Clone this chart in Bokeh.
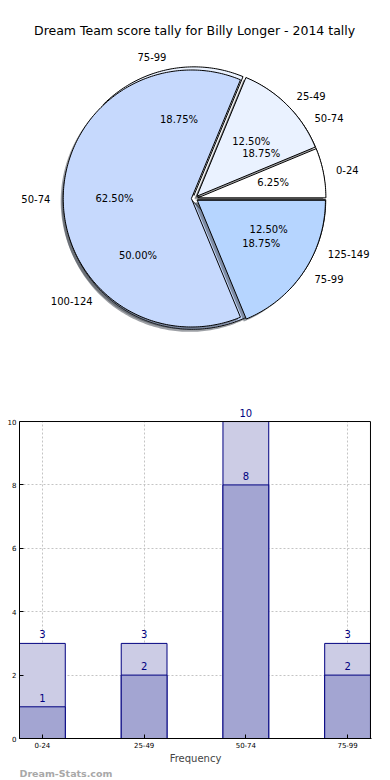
import numpy as np
from bokeh.plotting import figure
from bokeh.models import Range1d, ColumnDataSource, Label, FixedTicker, BoxAnnotation
from bokeh.layouts import column
from bokeh.embed import file_html
from bokeh.resources import INLINE
from bokeh.core.properties import value

# ---------------- data ----------------
title_text = "Dream Team score tally for Billy Longer - 2014 tally"
pie_a_labels = ["0-24", "25-49", "50-74", "75-99"]
pie_a_values = [1, 2, 10, 3]
pie_b_labels = ["50-74", "75-99", "100-124", "125-149"]
pie_b_values = [3, 3, 8, 2]
pie_colors = ["#ffffff", "#eaf2ff", "#c6d9fd", "#b6d5ff"]

bar_categories = ["0-24", "25-49", "50-74", "75-99"]
bar_totals = [3, 3, 10, 3]
bar_dark = [1, 2, 8, 2]
y_ticks = [0, 2, 4, 6, 8, 10]
x_axis_title = "Frequency"
watermark_text = "Dream-Stats.com"

FONT_NAME = "DejaVu Sans"
FONT = value(FONT_NAME)

# ---------------- pie figure ----------------
CX, CY = 194.0, 780.0 - 198.0
RX, RY = 142.0, 128.5
EXPLODE = 0.025
SH_X, SH_Y = -2.8, -2.6


def wedge_geometry(values, labels, explode):
    v = np.asarray(values, dtype=float)
    frac = v / v.sum()
    ends = np.cumsum(frac) * 360.0
    starts = ends - frac * 360.0
    xs, ys = [], []
    lab_l = dict(x=[], y=[], text=[])
    lab_r = dict(x=[], y=[], text=[])
    pct = dict(x=[], y=[], text=[])
    for s, e, f, name in zip(starts, ends, frac, labels):
        mid = np.radians((s + e) / 2.0)
        ox = CX + explode * RX * np.cos(mid)
        oy = CY + explode * RY * np.sin(mid)
        t = np.radians(np.linspace(s, e, int(e - s) + 3))
        xs.append(list(np.concatenate([[ox], ox + RX * np.cos(t)])))
        ys.append(list(np.concatenate([[oy], oy + RY * np.sin(t)])))
        target = lab_l if np.cos(mid) > 0 else lab_r
        target["x"].append(ox + 1.1 * RX * np.cos(mid))
        target["y"].append(oy + 1.1 * RY * np.sin(mid))
        target["text"].append(name)
        pct["x"].append(ox + 0.6 * RX * np.cos(mid))
        pct["y"].append(oy + 0.6 * RY * np.sin(mid))
        pct["text"].append("%.2f%%" % (100 * f))
    return xs, ys, lab_l, lab_r, pct


def shade(c):
    r, g, b = int(c[1:3], 16), int(c[3:5], 16), int(c[5:7], 16)
    return "#%02x%02x%02x" % (int(r * 0.3), int(g * 0.3), int(b * 0.3))


pie = figure(width=390, height=400, x_range=Range1d(0, 390), y_range=Range1d(380, 780),
             output_backend="svg", toolbar_location=None, min_border=0,
             x_axis_location=None, y_axis_location=None, outline_line_color=None)
pie.grid.visible = False

texts = []
for vals, labs in ((pie_b_values, pie_b_labels), (pie_a_values, pie_a_labels)):
    xs, ys, lab_l, lab_r, pct = wedge_geometry(vals, labs, EXPLODE)
    sxs = [[x + SH_X for x in xx] for xx in xs]
    sys_ = [[y + SH_Y for y in yy] for yy in ys]
    pie.patches(xs=sxs, ys=sys_, fill_color=[shade(c) for c in pie_colors],
                fill_alpha=0.5, line_color=None)
    pie.patches(xs=xs, ys=ys, fill_color=pie_colors, line_color="black", line_width=1)
    texts.append((lab_l, lab_r, pct))

for lab_l, lab_r, pct in texts:
    for d, al in ((lab_l, "left"), (lab_r, "right"), (pct, "center")):
        pie.text(x="x", y="y", text="text", source=ColumnDataSource(d),
                 text_align=value(al), text_baseline=value("middle"), text_font=FONT,
                 text_font_size=value("10px"), text_color="black")

pie.add_layout(Label(x=194, y=780 - 30, text=title_text, text_align="center",
                     text_baseline="middle", text_font=FONT_NAME, text_font_size="12.5px",
                     text_color="black"))

# ---------------- bar figure ----------------
bx = list(range(len(bar_categories)))
X0, X1 = -0.225, 3.225
YMAX = max(y_ticks)
bar = figure(width=390, height=366, x_range=Range1d(X0, 3.235), y_range=Range1d(0, 10.6),
             output_backend="svg", toolbar_location=None,
             min_border_left=19, min_border_right=19, min_border_top=2, min_border_bottom=26,
             outline_line_color=None)

bar.grid.grid_line_color = "#c4c4c4"
bar.grid.grid_line_dash = "2 2"
bar.grid.grid_line_width = 1
bar.xgrid.ticker = FixedTicker(ticks=bx)
bar.ygrid.ticker = FixedTicker(ticks=y_ticks)

src = ColumnDataSource(dict(x=bx, total=bar_totals, dark=bar_dark))
bar.vbar(x="x", top="total", width=0.45, source=src, fill_color="#cccce5",
         line_color="#000080", line_width=1)
bar.vbar(x="x", top="dark", width=0.45, source=src, fill_color="#a3a5d2",
         line_color="#000080", line_width=1)

# white strip above the axes box, then the black axes box
bar.add_layout(BoxAnnotation(bottom=YMAX, fill_color="white", fill_alpha=1.0,
                             line_alpha=0))
bar.add_layout(BoxAnnotation(left=X0, right=X1, bottom=0, top=YMAX, fill_alpha=0,
                             line_color="black", line_width=1, line_alpha=1))

for xi, tv, dv in zip(bx, bar_totals, bar_dark):
    for v in (tv, dv):
        bar.add_layout(Label(x=xi, y=v, text=str(v), text_align="center",
                             text_baseline="alphabetic", y_offset=9, text_font=FONT_NAME,
                             text_font_size="10px", text_color="#000080"))

bar.xaxis.ticker = FixedTicker(ticks=bx)
bar.xaxis.major_label_overrides = {i: c for i, c in zip(bx, bar_categories)}
bar.yaxis.ticker = FixedTicker(ticks=y_ticks)
bar.yaxis.bounds = (0, YMAX)
for ax in (bar.xaxis, bar.yaxis):
    ax.major_tick_in = 4
    ax.major_tick_out = 0
    ax.minor_tick_in = 0
    ax.minor_tick_out = 0
    ax.major_label_text_font = FONT_NAME
    ax.major_label_text_font_size = "7px"
    ax.major_label_text_color = "black"
    ax.axis_line_color = "black"
    ax.major_tick_line_color = "black"
    ax.major_label_standoff = 3
bar.xaxis.axis_label = x_axis_title
bar.xaxis.axis_label_text_font = FONT_NAME
bar.xaxis.axis_label_text_font_size = "10px"
bar.xaxis.axis_label_text_font_style = "normal"
bar.xaxis.axis_label_standoff = 2

# ---------------- watermark strip ----------------
wm = figure(width=390, height=14, x_range=Range1d(0, 390), y_range=Range1d(0, 14),
            output_backend="svg", toolbar_location=None, min_border=0,
            x_axis_location=None, y_axis_location=None, outline_line_color=None)
wm.grid.visible = False
wm.add_layout(Label(x=0, y=2, text=watermark_text, text_font=FONT_NAME,
                    text_font_size="9.5px", text_font_style="bold",
                    text_color="#a8a8a8", text_baseline="bottom"))

layout = column(pie, bar, wm, spacing=0)
open("out.html", "w").write(file_html(layout, INLINE))
